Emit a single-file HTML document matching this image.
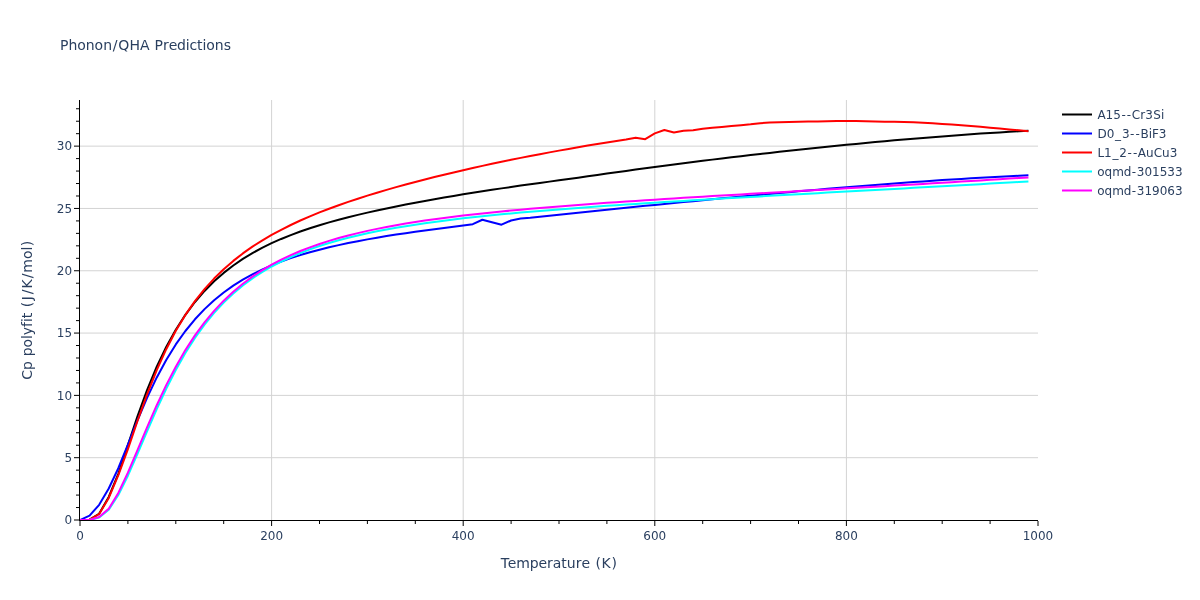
<!DOCTYPE html>
<html lang="en"><head><meta charset="utf-8"><title>Phonon/QHA Predictions</title>
<style>html,body{margin:0;padding:0;background:#fff;overflow:hidden}body{width:1200px;height:600px}</style></head>
<body>
<svg width="1200" height="600" viewBox="0 0 1200 600" style="display:block">
<rect x="0" y="0" width="1200" height="600" fill="#ffffff"/>
<g stroke="#d3d3d3" stroke-width="1">
<path d="M271.6,100V520"/>
<path d="M463.2,100V520"/>
<path d="M654.8,100V520"/>
<path d="M846.4,100V520"/>
<path d="M80,457.69H1038"/>
<path d="M80,395.38H1038"/>
<path d="M80,333.07H1038"/>
<path d="M80,270.76H1038"/>
<path d="M80,208.45H1038"/>
<path d="M80,146.14H1038"/>
</g>
<clipPath id="plotclip"><rect x="80" y="100" width="958" height="420"/></clipPath>
<g fill="none" stroke-width="2" stroke-linejoin="round" stroke-linecap="butt" clip-path="url(#plotclip)">
<path d="M80.00,520.00L89.58,519.63L99.16,513.76L108.74,496.93L118.32,473.86L127.90,445.10L137.48,416.33L147.06,390.06L156.64,366.95L166.22,346.92L175.80,329.67L185.38,314.82L194.96,302.02L204.54,290.94L214.12,281.30L223.70,272.88L233.28,265.47L242.86,258.93L252.44,253.11L262.02,247.89L271.60,243.20L281.18,238.95L290.76,235.07L300.34,231.51L309.92,228.24L319.50,225.20L329.08,222.36L338.66,219.71L348.24,217.21L357.82,214.85L367.40,212.60L376.98,210.46L386.56,208.42L396.14,206.45L405.72,204.56L415.30,202.73L424.88,200.96L434.46,199.24L444.04,197.56L453.62,195.94L463.20,194.35L472.78,192.80L482.36,191.29L491.94,189.82L501.52,188.38L511.10,186.98L520.68,185.61L530.26,184.26L539.84,182.94L549.42,181.62L559.00,180.30L568.58,178.99L578.16,177.66L587.74,176.32L597.32,174.97L606.90,173.61L616.48,172.26L626.06,170.91L635.64,169.57L645.22,168.25L654.80,166.95L664.38,165.68L673.96,164.43L683.54,163.20L693.12,161.99L702.70,160.80L712.28,159.63L721.86,158.47L731.44,157.33L741.02,156.21L750.60,155.10L760.18,154.00L769.76,152.92L779.34,151.85L788.92,150.80L798.50,149.76L808.08,148.74L817.66,147.74L827.24,146.75L836.82,145.79L846.40,144.83L855.98,143.90L865.56,142.98L875.14,142.09L884.72,141.21L894.30,140.35L903.88,139.52L913.46,138.70L923.04,137.91L932.62,137.14L942.20,136.39L951.78,135.66L961.36,134.96L970.94,134.28L980.52,133.62L990.10,132.99L999.68,132.39L1009.26,131.81L1018.84,131.26L1028.42,130.73" stroke="#000000"/>
<path d="M80.00,520.00L89.58,515.64L99.16,504.79L108.74,488.45L118.32,468.25L127.90,444.60L137.48,420.40L147.06,397.85L156.64,377.67L166.22,359.93L175.80,344.45L185.38,331.00L194.96,319.30L204.54,309.12L214.12,300.24L223.70,292.47L233.28,285.65L242.86,279.64L252.44,274.32L262.02,269.60L271.60,265.38L281.18,261.59L290.76,258.17L300.34,255.08L309.92,252.26L319.50,249.68L329.08,247.31L338.66,245.12L348.24,243.08L357.82,241.17L367.40,239.39L376.98,237.71L386.56,236.11L396.14,234.60L405.72,233.15L415.30,231.76L424.88,230.43L434.46,229.14L444.04,227.89L453.62,226.67L463.20,225.49L472.78,224.21L482.36,219.72L491.94,222.22L501.52,224.71L511.10,220.47L520.68,218.60L530.26,217.81L539.84,216.77L549.42,215.74L559.00,214.72L568.58,213.71L578.16,212.71L587.74,211.71L597.32,210.72L606.90,209.74L616.48,208.76L626.06,207.79L635.64,206.82L645.22,205.86L654.80,204.90L664.38,203.95L673.96,203.01L683.54,202.07L693.12,201.13L702.70,200.20L712.28,199.28L721.86,198.36L731.44,197.45L741.02,196.55L750.60,195.66L760.18,194.77L769.76,193.89L779.34,193.03L788.92,192.17L798.50,191.32L808.08,190.48L817.66,189.65L827.24,188.83L836.82,188.03L846.40,187.23L855.98,186.45L865.56,185.69L875.14,184.93L884.72,184.20L894.30,183.47L903.88,182.77L913.46,182.08L923.04,181.40L932.62,180.75L942.20,180.11L951.78,179.49L961.36,178.90L970.94,178.32L980.52,177.76L990.10,177.23L999.68,176.71L1009.26,176.22L1018.84,175.75L1028.42,175.31" stroke="#0000ff"/>
<path d="M80.00,520.00L89.58,519.63L99.16,514.01L108.74,497.93L118.32,475.11L127.90,449.17L137.48,421.04L147.06,394.37L156.64,370.31L166.22,349.18L175.80,330.83L185.38,314.94L194.96,301.14L204.54,289.11L214.12,278.55L223.70,269.20L233.28,260.89L242.86,253.42L252.44,246.68L262.02,240.55L271.60,234.94L281.18,229.77L290.76,224.99L300.34,220.53L309.92,216.36L319.50,212.44L329.08,208.74L338.66,205.23L348.24,201.88L357.82,198.69L367.40,195.64L376.98,192.70L386.56,189.87L396.14,187.14L405.72,184.50L415.30,181.95L424.88,179.46L434.46,177.05L444.04,174.70L453.62,172.42L463.20,170.19L472.78,168.01L482.36,165.89L491.94,163.82L501.52,161.80L511.10,159.82L520.68,157.89L530.26,156.00L539.84,154.16L549.42,152.36L559.00,150.61L568.58,148.90L578.16,147.23L587.74,145.60L597.32,144.02L606.90,142.49L616.48,140.99L626.06,139.54L635.64,137.79L645.22,139.17L654.80,133.43L664.38,130.06L673.96,132.56L683.54,130.81L693.12,130.19L702.70,128.69L712.28,127.82L721.86,126.95L731.44,126.07L741.02,125.23L750.60,124.33L760.18,123.20L769.76,122.46L779.34,122.18L788.92,122.01L798.50,121.83L808.08,121.61L817.66,121.39L827.24,121.21L836.82,121.05L846.40,120.96L855.98,121.04L865.56,121.21L875.14,121.46L884.72,121.68L894.30,121.86L903.88,122.03L913.46,122.21L923.04,122.63L932.62,123.28L942.20,123.95L951.78,124.58L961.36,125.23L970.94,125.95L980.52,126.77L990.10,127.67L999.68,128.57L1009.26,129.44L1018.84,130.31L1028.42,131.19" stroke="#ff0000"/>
<path d="M80.00,520.00L89.58,520.00L99.16,517.51L108.74,509.77L118.32,495.06L127.90,475.69L137.48,453.89L147.06,431.39L156.64,409.43L166.22,388.81L175.80,369.96L185.38,353.01L194.96,337.95L204.54,324.64L214.12,312.92L223.70,302.60L233.28,293.51L242.86,285.49L252.44,278.40L262.02,272.11L271.60,266.50L281.18,261.49L290.76,257.01L300.34,252.96L309.92,249.31L319.50,246.00L329.08,242.99L338.66,240.24L348.24,237.73L357.82,235.41L367.40,233.27L376.98,231.30L386.56,229.46L396.14,227.75L405.72,226.15L415.30,224.66L424.88,223.25L434.46,221.93L444.04,220.67L453.62,219.49L463.20,218.36L472.78,217.29L482.36,216.27L491.94,215.29L501.52,214.35L511.10,213.45L520.68,212.58L530.26,211.74L539.84,210.93L549.42,210.15L559.00,209.39L568.58,208.65L578.16,207.93L587.74,207.23L597.32,206.54L606.90,205.87L616.48,205.21L626.06,204.56L635.64,203.93L645.22,203.31L654.80,202.69L664.38,202.09L673.96,201.49L683.54,200.90L693.12,200.32L702.70,199.75L712.28,199.18L721.86,198.61L731.44,198.05L741.02,197.49L750.60,196.94L760.18,196.39L769.76,195.85L779.34,195.30L788.92,194.76L798.50,194.22L808.08,193.69L817.66,193.15L827.24,192.62L836.82,192.09L846.40,191.55L855.98,191.02L865.56,190.49L875.14,189.96L884.72,189.44L894.30,188.91L903.88,188.38L913.46,187.85L923.04,187.32L932.62,186.79L942.20,186.26L951.78,185.73L961.36,185.20L970.94,184.67L980.52,184.14L990.10,183.61L999.68,183.08L1009.26,182.54L1018.84,182.01L1028.42,181.47" stroke="#00ffff"/>
<path d="M80.00,520.00L89.58,520.00L99.16,517.07L108.74,508.65L118.32,492.94L127.90,472.65L137.48,450.13L147.06,427.34L156.64,405.45L166.22,385.13L175.80,366.67L185.38,350.11L194.96,335.39L204.54,322.36L214.12,310.85L223.70,300.68L233.28,291.69L242.86,283.72L252.44,276.65L262.02,270.35L271.60,264.72L281.18,259.67L290.76,255.13L300.34,251.03L309.92,247.32L319.50,243.95L329.08,240.87L338.66,238.06L348.24,235.48L357.82,233.10L367.40,230.90L376.98,228.87L386.56,226.98L396.14,225.22L405.72,223.57L415.30,222.03L424.88,220.58L434.46,219.22L444.04,217.93L453.62,216.71L463.20,215.55L472.78,214.45L482.36,213.40L491.94,212.40L501.52,211.44L511.10,210.52L520.68,209.63L530.26,208.78L539.84,207.96L549.42,207.16L559.00,206.39L568.58,205.64L578.16,204.91L587.74,204.20L597.32,203.51L606.90,202.83L616.48,202.17L626.06,201.52L635.64,200.88L645.22,200.26L654.80,199.64L664.38,199.03L673.96,198.44L683.54,197.84L693.12,197.26L702.70,196.68L712.28,196.11L721.86,195.54L731.44,194.97L741.02,194.41L750.60,193.85L760.18,193.30L769.76,192.75L779.34,192.19L788.92,191.64L798.50,191.09L808.08,190.54L817.66,189.99L827.24,189.45L836.82,188.90L846.40,188.34L855.98,187.79L865.56,187.24L875.14,186.68L884.72,186.13L894.30,185.57L903.88,185.01L913.46,184.44L923.04,183.88L932.62,183.31L942.20,182.73L951.78,182.16L961.36,181.58L970.94,180.99L980.52,180.40L990.10,179.81L999.68,179.21L1009.26,178.61L1018.84,178.01L1028.42,177.40" stroke="#ff00ff"/>
</g>
<g stroke="#000" stroke-width="1" fill="none">
<path d="M79.5,100V520.5"/>
<path d="M79,520.5H1038"/>
<path d="M80.00,521V526"/>
<path d="M271.60,521V526"/>
<path d="M463.20,521V526"/>
<path d="M654.80,521V526"/>
<path d="M846.40,521V526"/>
<path d="M1038.00,521V526"/>
<path d="M127.90,521V524"/>
<path d="M175.80,521V524"/>
<path d="M223.70,521V524"/>
<path d="M319.50,521V524"/>
<path d="M367.40,521V524"/>
<path d="M415.30,521V524"/>
<path d="M511.10,521V524"/>
<path d="M559.00,521V524"/>
<path d="M606.90,521V524"/>
<path d="M702.70,521V524"/>
<path d="M750.60,521V524"/>
<path d="M798.50,521V524"/>
<path d="M894.30,521V524"/>
<path d="M942.20,521V524"/>
<path d="M990.10,521V524"/>
<path d="M79,520.00H74"/>
<path d="M79,457.69H74"/>
<path d="M79,395.38H74"/>
<path d="M79,333.07H74"/>
<path d="M79,270.76H74"/>
<path d="M79,208.45H74"/>
<path d="M79,146.14H74"/>
<path d="M79,507.54H76"/>
<path d="M79,495.08H76"/>
<path d="M79,482.61H76"/>
<path d="M79,470.15H76"/>
<path d="M79,445.23H76"/>
<path d="M79,432.77H76"/>
<path d="M79,420.30H76"/>
<path d="M79,407.84H76"/>
<path d="M79,382.92H76"/>
<path d="M79,370.46H76"/>
<path d="M79,357.99H76"/>
<path d="M79,345.53H76"/>
<path d="M79,320.61H76"/>
<path d="M79,308.15H76"/>
<path d="M79,295.68H76"/>
<path d="M79,283.22H76"/>
<path d="M79,258.30H76"/>
<path d="M79,245.84H76"/>
<path d="M79,233.37H76"/>
<path d="M79,220.91H76"/>
<path d="M79,195.99H76"/>
<path d="M79,183.53H76"/>
<path d="M79,171.06H76"/>
<path d="M79,158.60H76"/>
<path d="M79,133.68H76"/>
<path d="M79,121.22H76"/>
<path d="M79,108.75H76"/>
</g>
<g font-family="'DejaVu Sans','Liberation Sans',Verdana,sans-serif" fill="#2a3f5f">
<g font-size="12" text-anchor="middle">
<text x="80.00" y="540">0</text>
<text x="271.60" y="540">200</text>
<text x="463.20" y="540">400</text>
<text x="654.80" y="540">600</text>
<text x="846.40" y="540">800</text>
<text x="1038.00" y="540">1000</text>
</g>
<g font-size="12" text-anchor="end">
<text x="72.1" y="524.20">0</text>
<text x="72.1" y="461.89">5</text>
<text x="72.1" y="399.58">10</text>
<text x="72.1" y="337.27">15</text>
<text x="72.1" y="274.96">20</text>
<text x="72.1" y="212.65">25</text>
<text x="72.1" y="150.34">30</text>
</g>
<text y="50.00" font-size="14"><tspan x="60.00 68.44 77.27 85.79 94.62 103.15 112.83 118.37 129.39 139.91 149.72 154.40 162.96 168.68 177.08 185.86 189.52 197.03 202.51 206.34 214.87 223.73">Phonon/QHA Predictions</tspan></text>
<text y="568.00" font-size="14"><tspan x="500.66 507.81 516.28 529.82 538.49 547.08 552.86 561.37 566.86 575.84 581.57 590.28 595.41 601.58 611.47">Temperature (K)</tspan></text>
<g transform="translate(32,310) rotate(-90)"><text y="0.00" font-size="14"><tspan x="-69.71 -60.02 -50.98 -46.37 -37.60 -29.09 -25.23 -16.95 -12.04 -8.17 -2.43 2.71 9.73 15.80 21.60 31.86 37.39 50.98 59.49 63.80">Cp polyfit (J/K/mol)</tspan></text></g>
<g font-size="12">
<path d="M1062,114.5H1092" stroke="#000000" stroke-width="2" fill="none"/>
<text y="119.00" font-size="12"><tspan x="1097.40 1105.60 1113.23 1121.42 1126.87 1131.76 1140.23 1145.26 1153.18 1161.07">A15--Cr3Si</tspan></text>
<path d="M1062,133.5H1092" stroke="#0000ff" stroke-width="2" fill="none"/>
<text y="138.00" font-size="12"><tspan x="1097.40 1106.64 1115.09 1121.90 1130.09 1135.54 1140.43 1148.64 1151.95 1158.84">D0_3--BiF3</tspan></text>
<path d="M1062,152.5H1092" stroke="#ff0000" stroke-width="2" fill="none"/>
<text y="157.00" font-size="12"><tspan x="1097.40 1104.08 1112.52 1119.33 1127.53 1132.98 1137.86 1146.06 1153.66 1162.03 1169.63">L1_2--AuCu3</tspan></text>
<path d="M1062,171.5H1092" stroke="#00ffff" stroke-width="2" fill="none"/>
<text y="176.00" font-size="12"><tspan x="1097.37 1104.61 1112.15 1123.76 1131.87 1136.75 1144.38 1152.01 1159.64 1167.27 1174.90">oqmd-301533</tspan></text>
<path d="M1062,190.5H1092" stroke="#ff00ff" stroke-width="2" fill="none"/>
<text y="195.00" font-size="12"><tspan x="1097.37 1104.61 1112.15 1123.76 1131.87 1136.75 1144.38 1152.01 1159.64 1167.27 1174.90">oqmd-319063</tspan></text>
</g>
</g>
</svg>
</body></html>
